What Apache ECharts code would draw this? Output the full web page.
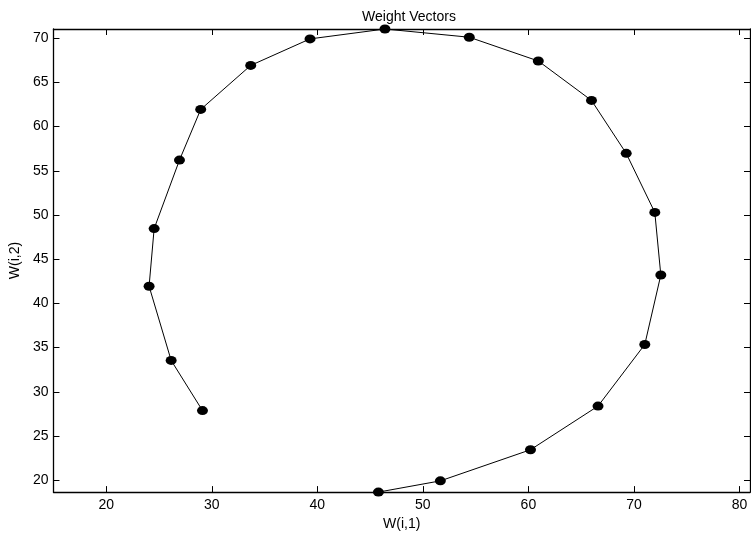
<!DOCTYPE html>
<html>
<head>
<meta charset="utf-8">
<script src="https://cdn.jsdelivr.net/npm/echarts@6/dist/echarts.min.js"></script>
<style>
html,body{margin:0;padding:0;background:#fff;}
#chart{width:751px;height:536px;}
</style>
</head>
<body>
<div id="chart"></div>
<script>
var titleText = "Weight Vectors";
var xName = "W(i,1)";
var yName = "W(i,2)";
var w1 = [29.12, 26.15, 24.06, 24.54, 26.94, 28.95, 33.69, 39.31, 46.41, 54.40, 60.94, 65.98, 69.27, 71.98, 72.55, 71.03, 66.60, 60.20, 51.66, 45.79];
var w2 = [27.87, 33.55, 41.94, 48.46, 56.21, 61.94, 66.92, 69.92, 71.04, 70.11, 67.42, 62.96, 56.97, 50.29, 43.21, 35.35, 28.38, 23.44, 19.92, 18.65];
var xTicks = [20, 30, 40, 50, 60, 70, 80];
var yTicks = [20, 25, 30, 35, 40, 45, 50, 55, 60, 65, 70];
var xRange = [15, 81];
var yRange = [18.65, 71.04];

var pts = w1.map(function (v, i) { return [v, w2[i]]; });
var font = "'Liberation Sans', Arial, sans-serif";

function axisBase(extra) {
  var a = {
    type: 'value',
    splitLine: { show: false },
    axisLine: { show: true, onZero: false, lineStyle: { color: '#000', width: 1.3 } },
    axisTick: { show: true, inside: true, length: 6, lineStyle: { color: '#000', width: 1 } },
    axisLabel: { show: true, color: '#000', fontSize: 14, fontFamily: font }
  };
  for (var k in extra) a[k] = extra[k];
  return a;
}

var chart = echarts.init(document.getElementById('chart'), null, { renderer: 'canvas' });
chart.setOption({
  animation: false,
  backgroundColor: '#fff',
  title: {
    text: titleText, left: 404, top: 5, textAlign: 'center',
    textStyle: { fontSize: 14, fontWeight: 'normal', color: '#000', fontFamily: font }
  },
  grid: { left: 52, right: 1, top: 29, bottom: 41, containLabel: false },
  xAxis: [
    axisBase({
      position: 'bottom', min: xRange[0], max: xRange[1],
      name: xName, nameLocation: 'middle', nameGap: 21,
      nameTextStyle: { color: '#000', fontSize: 14, fontFamily: font },
      axisTick: { show: true, inside: true, length: 6, customValues: xTicks, lineStyle: { color: '#000', width: 1 } },
      axisLabel: { show: true, color: '#000', fontSize: 14, fontFamily: font, margin: 6, customValues: xTicks }
    }),
    axisBase({
      position: 'top', min: xRange[0], max: xRange[1],
      axisTick: { show: true, inside: true, length: 6, customValues: xTicks, lineStyle: { color: '#000', width: 1 } },
      axisLabel: { show: false }
    })
  ],
  yAxis: [
    axisBase({
      position: 'left', min: yRange[0], max: yRange[1],
      name: yName, nameLocation: 'middle', nameGap: 24, nameRotate: 90,
      nameTextStyle: { color: '#000', fontSize: 14, fontFamily: font },
      axisTick: { show: true, inside: true, length: 6, customValues: yTicks, lineStyle: { color: '#000', width: 1 } },
      axisLabel: { show: true, color: '#000', fontSize: 14, fontFamily: font, margin: 5, customValues: yTicks }
    }),
    axisBase({
      position: 'right', min: yRange[0], max: yRange[1],
      axisTick: { show: true, inside: true, length: 6, customValues: yTicks, lineStyle: { color: '#000', width: 1 } },
      axisLabel: { show: false }
    })
  ],
  series: [{
    type: 'line',
    xAxisIndex: 0, yAxisIndex: 0,
    data: pts,
    symbol: 'circle',
    symbolSize: [11, 9],
    showAllSymbol: true,
    clip: false,
    lineStyle: { color: '#000', width: 1 },
    itemStyle: { color: '#000' }
  }]
});
</script>
</body>
</html>
